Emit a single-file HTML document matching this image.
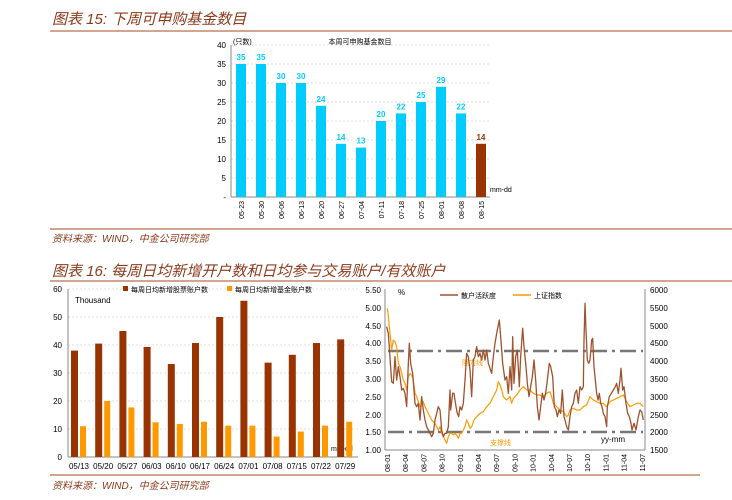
<!DOCTYPE html><html><head><meta charset="utf-8"><style>
body{margin:0;width:732px;height:500px;background:#fff;overflow:hidden;font-family:"Liberation Sans","Noto Sans CJK SC",sans-serif}
svg{position:absolute;left:0;top:0}
</style></head><body>
<svg width="732" height="500" viewBox="0 0 732 500" font-family="Liberation Sans, Noto Sans CJK SC, sans-serif">
<g fill="#8B3A1B" font-style="italic">
<text x="52" y="24" font-size="15">图表 15:  下周可申购基金数目</text>
<text x="52" y="242" font-size="10">资料来源：WIND，中金公司研究部</text>
<text x="52" y="276" font-size="15">图表 16:  每周日均新增开户数和日均参与交易账户/有效账户</text>
<text x="52" y="489" font-size="10">资料来源：WIND，中金公司研究部</text>
</g>
<g stroke="#D4A58E" stroke-width="2">
<line x1="50" y1="31" x2="732" y2="31"/><line x1="50" y1="229" x2="732" y2="229"/>
<line x1="50" y1="281" x2="732" y2="281"/><line x1="50" y1="475" x2="700" y2="475"/>
</g>
<!-- chart1 -->
<g font-size="8" fill="#000" text-anchor="end">
<text x="226" y="48">40</text><text x="226" y="67">35</text><text x="226" y="86">30</text><text x="226" y="105">25</text><text x="226" y="124">20</text><text x="226" y="143">15</text><text x="226" y="162">10</text><text x="226" y="181">5</text><text x="226" y="200">-</text>
</g>
<g stroke="#ddd" stroke-dasharray="2,2"><line x1="231" y1="45" x2="490" y2="45"/><line x1="231" y1="64" x2="490" y2="64"/><line x1="231" y1="83" x2="490" y2="83"/><line x1="231" y1="102" x2="490" y2="102"/><line x1="231" y1="121" x2="490" y2="121"/><line x1="231" y1="140" x2="490" y2="140"/><line x1="231" y1="159" x2="490" y2="159"/><line x1="231" y1="178" x2="490" y2="178"/></g>
<line x1="231" y1="45" x2="231" y2="197" stroke="#888"/><line x1="231" y1="197" x2="490" y2="197" stroke="#888"/>
<text x="233" y="44" font-size="7">(只数)</text>
<text x="360" y="44" font-size="7" text-anchor="middle">本周可申购基金数目</text>
<text x="490" y="192" font-size="7">mm-dd</text>
<g id="c1"></g>
<!-- chart2 -->
<g font-size="8" text-anchor="end">
<text x="62" y="292">60</text><text x="62" y="320">50</text><text x="62" y="348">40</text><text x="62" y="376">30</text><text x="62" y="404">20</text><text x="62" y="432">10</text><text x="62" y="460">0</text>
</g>
<g stroke="#ddd" stroke-dasharray="2,2"><line x1="68" y1="289" x2="358" y2="289"/><line x1="68" y1="317" x2="358" y2="317"/><line x1="68" y1="345" x2="358" y2="345"/><line x1="68" y1="373" x2="358" y2="373"/><line x1="68" y1="401" x2="358" y2="401"/><line x1="68" y1="429" x2="358" y2="429"/></g>
<line x1="68" y1="289" x2="68" y2="457" stroke="#888"/><line x1="68" y1="457" x2="358" y2="457" stroke="#888"/>
<rect x="123" y="286" width="5" height="5" fill="#993300"/><text x="131" y="292" font-size="7">每周日均新增股票账户数</text>
<rect x="227" y="286" width="5" height="5" fill="#FF9900"/><text x="235" y="292" font-size="7">每周日均新增基金账户数</text>
<text x="75" y="303" font-size="8">Thousand</text>
<text x="331" y="451" font-size="7">mm-dd</text>
<g id="c2"></g>
<!-- chart3 -->
<g font-size="8" text-anchor="end">
<text x="381" y="293">5.50</text><text x="381" y="311">5.00</text><text x="381" y="329">4.50</text><text x="381" y="346">4.00</text><text x="381" y="364">3.50</text><text x="381" y="382">3.00</text><text x="381" y="400">2.50</text><text x="381" y="418">2.00</text><text x="381" y="435">1.50</text><text x="381" y="453">1.00</text>
</g>
<g font-size="8"><text x="650" y="293">6000</text><text x="650" y="311">5500</text><text x="650" y="329">5000</text><text x="650" y="346">4500</text><text x="650" y="364">4000</text><text x="650" y="382">3500</text><text x="650" y="400">3000</text><text x="650" y="418">2500</text><text x="650" y="435">2000</text><text x="650" y="453">1500</text></g>
<line x1="385" y1="289" x2="385" y2="450" stroke="#888"/><line x1="645" y1="289" x2="645" y2="450" stroke="#888"/><line x1="385" y1="450" x2="645" y2="450" stroke="#888"/>
<text x="398" y="295" font-size="8">%</text>
<line x1="440" y1="295" x2="458" y2="295" stroke="#A0522D" stroke-width="1.5"/><text x="461" y="298" font-size="7">散户活跃度</text>
<line x1="513" y1="295" x2="531" y2="295" stroke="#FF9900" stroke-width="1.5"/><text x="534" y="298" font-size="7">上证指数</text>
<g stroke="#777" stroke-width="2.5" stroke-dasharray="16,5,3,5"><line x1="388" y1="351" x2="643" y2="351"/><line x1="388" y1="432" x2="643" y2="432"/></g>
<text x="462" y="365" font-size="7" fill="#FF9900">阻力线</text>
<text x="490" y="445" font-size="7" fill="#FF9900">支撑线</text>
<text x="601" y="442" font-size="8">yy-mm</text>
<g transform="translate(370,280) scale(0.33333)" fill="none" stroke-linejoin="round">
<polyline vector-effect="non-scaling-stroke" stroke="#FF9900" stroke-width="1.2" points="52,85 55,110 60,160 65,210 70,180 75,185 80,200 85,250 90,260 95,280 100,300 105,310 110,330 115,290 120,280 125,285 130,300 135,340 140,350 145,365 150,380 155,370 160,365 165,380 170,390 175,400 185,420 195,430 200,440 205,450 210,440 215,460 220,470 225,480 230,490 235,470 240,460 245,460 250,465 255,460 260,465 265,475 270,460 275,460 280,450 285,440 290,420 295,430 300,445 305,440 310,425 315,415 320,410 330,400 340,395 350,380 360,370 370,350 380,330 385,305 390,315 395,330 400,350 410,360 420,350 425,370 430,355 440,345 450,330 460,320 470,330 480,330 490,340 500,345 510,345 520,350 530,340 540,335 545,350 550,370 560,380 570,390 580,395 590,410 595,405 600,390 610,385 620,390 630,390 640,380 650,375 660,350 670,360 680,365 690,370 700,370 710,380 720,365 730,360 740,355 750,350 760,345 770,365 780,380 790,375 800,370 810,370 820,380"/>
<polyline vector-effect="non-scaling-stroke" stroke="#A0522D" stroke-width="1.3" points="50,140 55,160 65,305 70,310 75,230 80,300 85,260 90,290 95,330 100,325 105,340 110,380 115,250 118,190 122,250 128,280 135,370 140,380 145,370 150,420 155,350 160,390 165,420 170,440 180,460 185,470 190,460 195,420 205,380 210,390 215,450 220,470 225,460 230,460 235,440 240,330 242,390 248,340 252,340 258,380 262,400 266,410 270,380 275,390 280,370 285,300 290,220 295,230 300,270 305,350 310,240 315,230 320,200 325,230 330,220 335,240 340,210 345,240 350,210 355,250 365,280 370,230 375,190 380,160 388,120 392,170 398,250 405,300 410,290 415,340 420,260 425,330 428,170 432,310 437,230 442,210 448,320 452,230 458,145 462,200 468,260 472,310 477,350 482,320 487,290 492,240 497,300 502,380 507,420 512,380 517,340 522,360 527,340 532,300 538,250 542,260 548,290 553,380 558,390 562,410 567,390 572,400 577,330 582,410 585,420 590,440 595,450 600,410 605,380 610,370 615,340 620,330 625,370 630,320 635,330 640,320 642,180 645,70 648,150 652,240 656,250 660,240 665,180 668,175 672,260 676,300 680,340 684,360 688,340 692,370 696,380 700,400 705,410 710,440 712,380 718,350 724,340 730,330 736,320 740,310 745,340 750,300 753,265 758,330 762,320 768,370 773,400 778,410 783,430 786,450 792,430 798,450 805,410 810,390 815,395 820,420"/>
</g>
<g id="c3" font-size="7"></g>
</svg>
<script>
var NS="http://www.w3.org/2000/svg";
function el(p,t,a,txt){var e=document.createElementNS(NS,t);for(var k in a)e.setAttribute(k,a[k]);if(txt)e.textContent=txt;document.getElementById(p).appendChild(e);}
var v1=[35,35,30,30,24,14,13,20,22,25,29,22,14],d1=["05-23","05-30","06-06","06-13","06-20","06-27","07-04","07-11","07-18","07-25","08-01","08-08","08-15"];
v1.forEach(function(v,i){var cx=241+20*i,h=v*3.8,c=i==12?"#993300":"#00CCFF";
el("c1","rect",{x:cx-5,y:197-h,width:10,height:h,fill:c});
el("c1","text",{x:cx,y:193-h,"font-size":8,"font-weight":"bold",fill:c,"text-anchor":"middle"},""+v);
el("c1","text",{x:0,y:0,"font-size":7,"text-anchor":"end",transform:"translate("+(cx+3)+",201) rotate(-90)"},d1[i]);});
var b=[38,40.5,45,39.3,33.2,40.7,50,55.8,33.7,36.5,40.7,42],o=[11,20,17.7,12.4,11.8,12.6,11.2,11.2,7.3,9.1,11.2,12.6],d2=["05/13","05/20","05/27","06/03","06/10","06/17","06/24","07/01","07/08","07/15","07/22","07/29"];
b.forEach(function(v,i){var cx=79+24.2*i;
el("c2","rect",{x:cx-8,y:457-v*2.8,width:7,height:v*2.8,fill:"#993300"});
el("c2","rect",{x:cx+1,y:457-o[i]*2.8,width:6,height:o[i]*2.8,fill:"#FF9900"});
el("c2","text",{x:cx,y:469,"font-size":8,"text-anchor":"middle"},d2[i]);});
var d3=["08-01","08-04","08-07","08-10","09-01","09-04","09-07","09-10","10-01","10-04","10-07","10-10","11-01","11-04","11-07"];
d3.forEach(function(s,i){var cx=387+18.2*i;el("c3","text",{x:0,y:0,"text-anchor":"end",transform:"translate("+(cx+3)+",454) rotate(-90)"},s);});
</script>
</body></html>
